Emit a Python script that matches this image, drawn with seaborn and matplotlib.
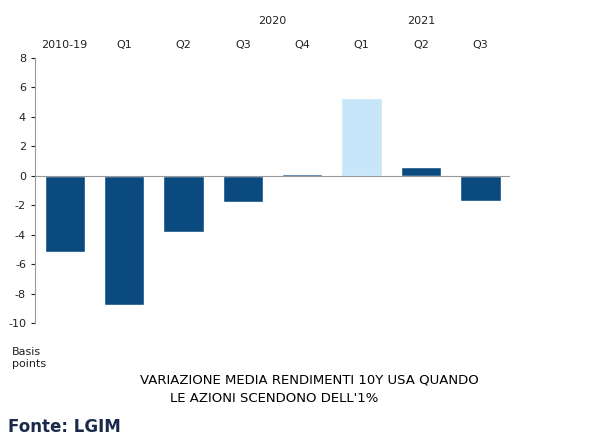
import matplotlib
matplotlib.use("Agg")
import matplotlib.pyplot as plt
import seaborn as sns
import pandas as pd

labels = ["2010-19", "Q1", "Q2", "Q3", "Q4", "Q1 ", "Q2 ", "Q3 "]
values = [-5.2, -8.8, -3.8, -1.8, 0.1, 5.3, 0.6, -1.7]
colors = ["#0b4a7f"] * 5 + ["#c7e6fa"] + ["#0b4a7f"] * 2
years = [("2020", 3.5), ("2021", 6.0)]

sns.set_style("white")
plt.rcParams["axes.unicode_minus"] = False
df = pd.DataFrame({"cat": labels, "val": values})
fig = plt.figure(figsize=(5.94, 4.46), dpi=100)
ax = fig.add_axes([35/594, 1-323/446, (510-35)/594, (323-58)/446])
sns.barplot(data=df, x="cat", y="val", hue="cat", palette=colors, legend=False,
            width=0.68, ax=ax, saturation=1)
ax.set_ylim(-10, 8)
ax.set_xlim(-0.5, 7.5)
ax.set_yticks(range(-10, 9, 2))
ax.tick_params(axis="y", labelsize=8, length=3, left=True, colors="#222222")
ax.set_xticks([])
ax.set_xlabel(""); ax.set_ylabel("")
for s in ["top", "right", "bottom"]:
    ax.spines[s].set_visible(False)
ax.spines["left"].set_color("#999999")
ax.axhline(0, color="#999999", lw=0.8)
for i, l in enumerate(labels):
    ax.text(i, 8.9, l.strip(), ha="center", va="center", fontsize=8, color="#222222")
for y, x in years:
    ax.text(x, 10.5, y, ha="center", va="center", fontsize=8, color="#222222")
fig.text(12/594, 1-358/446, "Basis\npoints", fontsize=8, va="center", color="#222222")
fig.text(140/594, 1-380/446, "VARIAZIONE MEDIA RENDIMENTI 10Y USA QUANDO", fontsize=9.5, va="center", color="black")
fig.text(170/594, 1-398/446, "LE AZIONI SCENDONO DELL'1%", fontsize=9.5, va="center", color="black")
fig.text(8/594, 1-427/446, "Fonte: LGIM", fontsize=12, fontweight="bold", color="#1a2a4a", va="center")
fig.savefig("out.png", dpi=100)
